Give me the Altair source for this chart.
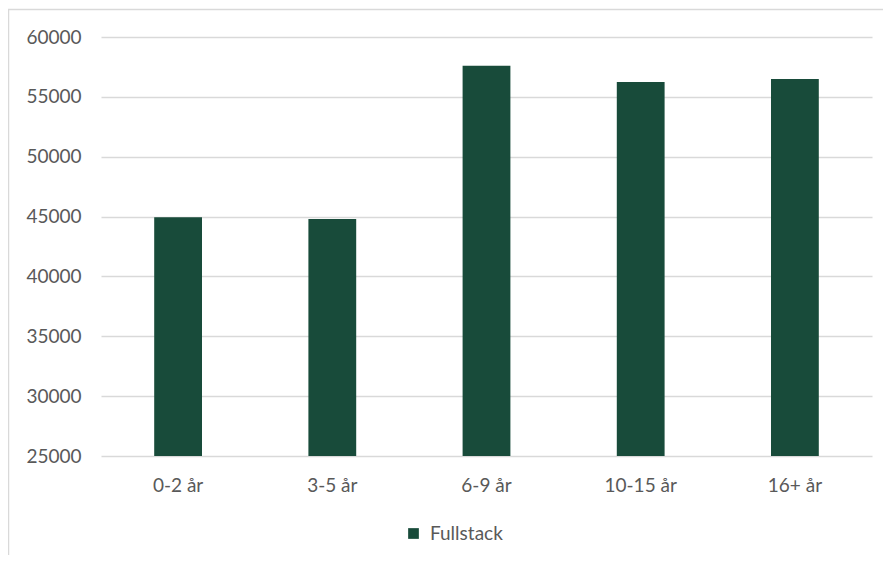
import altair as alt
import pandas as pd

categories = ["0-2 år", "3-5 år", "6-9 år", "10-15 år", "16+ år"]
values = [44950, 44800, 57600, 56250, 56500]
series_name = "Fullstack"
y_ticks = [25000, 30000, 35000, 40000, 45000, 50000, 55000, 60000]

df = pd.DataFrame({"cat": categories, "val": values, "series": [series_name] * len(categories)})

FONT = "Lato"
GRAY = "#595959"
GRID = "#d9d9d9"
BAR = "#184b3a"

bars = alt.Chart(df).mark_bar().encode(
    x=alt.X("cat:N", sort=categories, title=None,
            scale=alt.Scale(paddingInner=0.69, paddingOuter=0.345),
            axis=alt.Axis(labelAngle=0, domain=False, ticks=False, labelPadding=20,
                          labelFont=FONT, labelFontSize=19, labelColor=GRAY)),
    y=alt.Y("val:Q", title=None,
            scale=alt.Scale(domain=[25000, 60000], nice=False, zero=False),
            axis=alt.Axis(values=y_ticks, domain=False, ticks=False, labelPadding=20,
                          labelFont=FONT, labelFontSize=19, labelColor=GRAY,
                          gridColor=GRID, gridWidth=1.5, format="d")),
    y2=alt.datum(25000),
    color=alt.Color("series:N", title=None,
                    scale=alt.Scale(range=[BAR]),
                    legend=alt.Legend(orient="none", legendX=303, legendY=487,
                                      symbolType="square", symbolSize=115,
                                      symbolStrokeWidth=0, labelOffset=7,
                                      labelFont=FONT, labelFontSize=19, labelColor=GRAY)),
)

frame = alt.Chart(alt.Data(values=[{}])).mark_rect(
    fill=None, stroke=GRID, strokeWidth=1.5
).encode(
    x=alt.value(-92.5), x2=alt.value(900), y=alt.value(-27.5), y2=alt.value(600)
)

chart = alt.layer(frame, bars).properties(
    width=771, height=419,
    autosize=alt.AutoSizeParams(type="none"),
    padding={"left": 93, "top": 29, "right": 11, "bottom": 99},
    background="white",
).configure_view(stroke=None)

chart.save("out.html", embed_options={"renderer": "svg", "actions": False})
